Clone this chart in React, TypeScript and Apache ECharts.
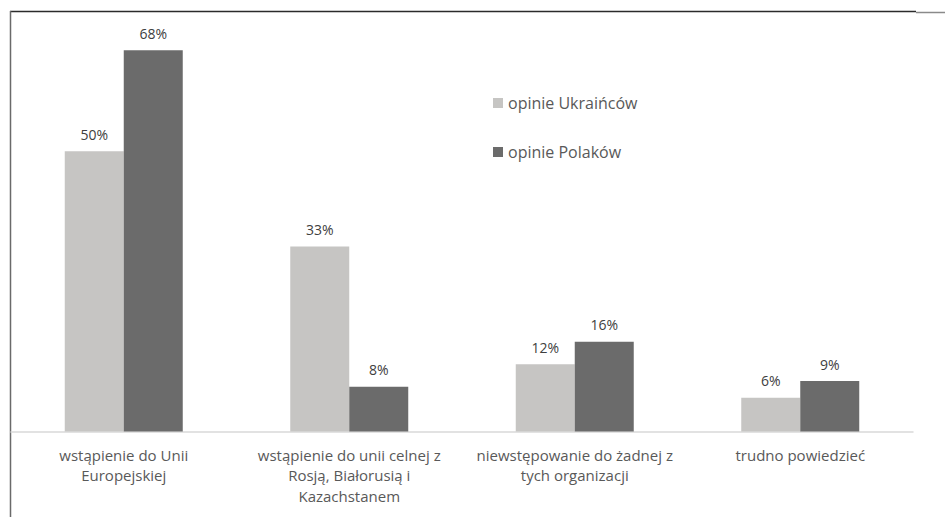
import React, { useEffect, useRef } from "react";
import * as echarts from "echarts";

const categories = [
  "wstąpienie do Unii\nEuropejskiej",
  "wstąpienie do unii celnej z\nRosją, Białorusią i\nKazachstanem",
  "niewstępowanie do żadnej z\ntych organizacji",
  "trudno powiedzieć",
];
const seriesNames = ["opinie Ukraińców", "opinie Polaków"];
const ukrainians = [50, 33, 12, 6];
const poles = [68, 8, 16, 9];

const FONT = "'Open Sans', sans-serif";

export default function App() {
  const ref = useRef<HTMLDivElement>(null);
  useEffect(() => {
    if (!ref.current) return;
    const chart = echarts.init(ref.current, null, { renderer: "svg" });
    const label = {
      show: true,
      position: "top" as const,
      distance: 10,
      formatter: "{c}%",
      color: "#404040",
      fontSize: 14,
      fontFamily: FONT,
    };
    chart.setOption({
      animation: false,
      backgroundColor: "#ffffff",
      grid: { left: 11, right: 32, top: 39, bottom: 85.5, containLabel: false },
      legend: {
        orient: "vertical",
        left: 488,
        top: 90,
        icon: "rect",
        itemWidth: 10,
        itemHeight: 10,
        itemGap: 33,
        textStyle: { fontSize: 16, color: "#595959", fontFamily: FONT },
        data: seriesNames,
      },
      xAxis: {
        type: "category",
        data: categories,
        axisLine: { lineStyle: { color: "#d9d9d9", width: 1.5 } },
        axisTick: { show: false },
        axisLabel: {
          interval: 0,
          margin: 13,
          color: "#595959",
          fontSize: 15,
          lineHeight: 20.5,
          fontFamily: FONT,
        },
      },
      yAxis: {
        type: "value",
        min: 0,
        max: 70,
        show: false,
        splitLine: { show: false },
      },
      series: [
        {
          name: seriesNames[0],
          type: "bar",
          data: ukrainians,
          barWidth: 59,
          barGap: "0%",
          itemStyle: { color: "#c6c5c3" },
          label,
        },
        {
          name: seriesNames[1],
          type: "bar",
          data: poles,
          barWidth: 59,
          barGap: "0%",
          itemStyle: { color: "#6b6b6b" },
          label,
        },
      ],
      graphic: [
        {
          type: "line",
          shape: { x1: 10, y1: 11.5, x2: 916, y2: 11.5 },
          style: { stroke: "#2b2b2b", lineWidth: 1.5 },
        },
        {
          type: "line",
          shape: { x1: 916, y1: 12.5, x2: 945, y2: 12.5 },
          style: { stroke: "#8a8a8a", lineWidth: 1.5 },
        },
        {
          type: "line",
          shape: { x1: 10.5, y1: 11, x2: 10.5, y2: 517 },
          style: { stroke: "#6a6a6a", lineWidth: 1.5 },
        },
      ],
    });
    return () => chart.dispose();
  }, []);
  return (
    <div
      ref={ref}
      style={{ position: "fixed", left: 0, top: 0, width: 945, height: 517 }}
    />
  );
}
